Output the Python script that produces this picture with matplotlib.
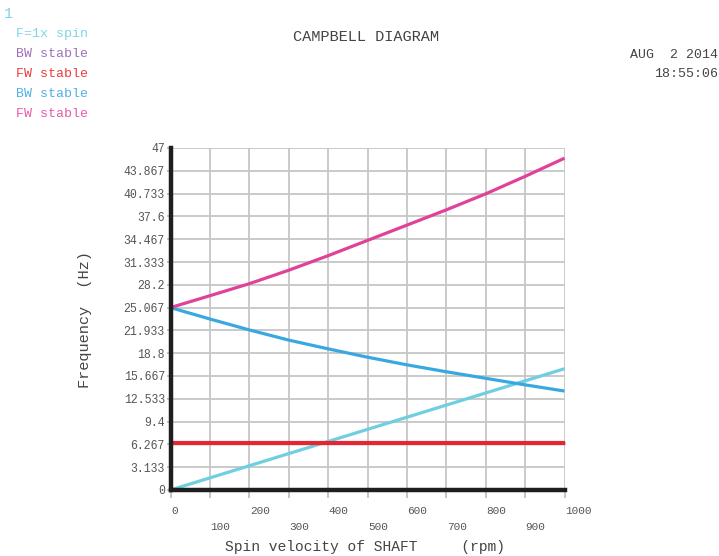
import matplotlib
matplotlib.use("Agg")
import matplotlib.pyplot as plt
import numpy as np

# ---- data ----
rpm = [0, 100, 200, 300, 400, 500, 600, 700, 800, 900, 1000]
spin_1x = [0.0, 1.667, 3.333, 5.0, 6.667, 8.333, 10.0, 11.667, 13.333, 15.0, 16.667]
bw_stable_1 = [6.42, 6.42, 6.42, 6.42, 6.42, 6.42, 6.42, 6.42, 6.42, 6.42, 6.42]
fw_stable_1 = [6.42, 6.42, 6.42, 6.42, 6.42, 6.42, 6.42, 6.42, 6.42, 6.42, 6.42]
bw_stable_2 = [25.067, 23.5, 22.0, 20.6, 19.4, 18.25, 17.2, 16.25, 15.35, 14.45, 13.6]
fw_stable_2 = [25.067, 26.7, 28.35, 30.2, 32.2, 34.3, 36.4, 38.5, 40.7, 43.1, 45.6]

legend_labels = ["F=1x spin", "BW stable", "FW stable", "BW stable", "FW stable"]
y_ticks = [0, 3.133, 6.267, 9.4, 12.533, 15.667, 18.8, 21.933, 25.067, 28.2,
           31.333, 34.467, 37.6, 40.733, 43.867, 47]
y_ticklabels = ["0", "3.133", "6.267", "9.4", "12.533", "15.667", "18.8", "21.933",
                "25.067", "28.2", "31.333", "34.467", "37.6", "40.733", "43.867", "47"]
x_ticks = [0, 100, 200, 300, 400, 500, 600, 700, 800, 900, 1000]

colors = ["#6fcfe0", "#a070b8", "#e3262f", "#3aa8e0", "#e0429a"]
text_colors = ["#7fd6e8", "#a070b8", "#f03a3a", "#50b0e8", "#e85aa8"]

MONO = "Liberation Mono"
W, H = 719, 556
fig = plt.figure(figsize=(W / 100, H / 100), dpi=100)
fig.patch.set_facecolor("white")

left, right, top, bottom = 170.5, 564.5, 148, 490
ax = fig.add_axes([left / W, 1 - bottom / H, (right - left) / W, (bottom - top) / H])

series = [spin_1x, bw_stable_1, fw_stable_1, bw_stable_2, fw_stable_2]
widths = [2.3, 2.3, 3.0, 2.3, 2.3]
for s, c, lw in zip(series, colors, widths):
    ax.plot(rpm, s, color=c, lw=lw, solid_capstyle="butt", zorder=3, clip_on=False)

ax.set_xlim(0, 1000)
ax.set_ylim(0, 47)
ax.set_yticks(y_ticks)
ax.set_yticklabels(y_ticklabels, fontfamily=MONO, fontsize=8.3, color="#555555")
ax.set_xticks(x_ticks)
ax.set_xticklabels([])
ax.grid(True, color="#c6c6c6", lw=1.3, zorder=0)
ax.tick_params(axis="x", color="#bbbbbb", length=6, width=1.2)
ax.tick_params(axis="y", color="#bbbbbb", length=3, width=1.2, pad=1)

for sp in ["top", "right"]:
    ax.spines[sp].set_visible(False)
for sp in ["left", "bottom"]:
    ax.spines[sp].set_color("#1e1e1e")
    ax.spines[sp].set_linewidth(3.2)
    ax.spines[sp].set_zorder(4)

# staggered x tick labels (left-aligned at the tick)
for i, v in enumerate(x_ticks):
    ypix = 511 if i % 2 == 0 else 527
    ax.annotate(str(v), xy=(v, 0), xycoords=("data", "axes fraction"),
                xytext=(0.5, -(ypix - bottom)), textcoords="offset pixels",
                ha="left", va="center", fontfamily=MONO, fontsize=8.0, color="#555555",
                annotation_clip=False)

fig.text(365 / W, 1 - 547 / H, "Spin velocity of SHAFT     (rpm)", ha="center", va="center",
         fontfamily=MONO, fontsize=10.5, color="#444444")
fig.text(85 / W, 1 - 320 / H, "Frequency  (Hz)", ha="center", va="center", rotation=90,
         fontfamily=MONO, fontsize=11, color="#444444")

fig.text(366 / W, 1 - 37 / H, "CAMPBELL DIAGRAM", ha="center", va="center",
         fontfamily=MONO, fontsize=11, color="#444444")
fig.text(718 / W, 1 - 55 / H, "AUG  2 2014", ha="right", va="center",
         fontfamily=MONO, fontsize=9.5, color="#444444")
fig.text(718 / W, 1 - 74 / H, "18:55:06", ha="right", va="center",
         fontfamily=MONO, fontsize=9.5, color="#444444")

fig.text(4 / W, 1 - 14 / H, "1", ha="left", va="center",
         fontfamily=MONO, fontsize=11, color="#7fd6e8")
for i, (lab, c) in enumerate(zip(legend_labels, text_colors)):
    fig.text(16 / W, 1 - (34 + 20 * i) / H, lab, ha="left", va="center",
             fontfamily=MONO, fontsize=9.5, color=c)

fig.savefig("out.png", dpi=100, facecolor="white")
